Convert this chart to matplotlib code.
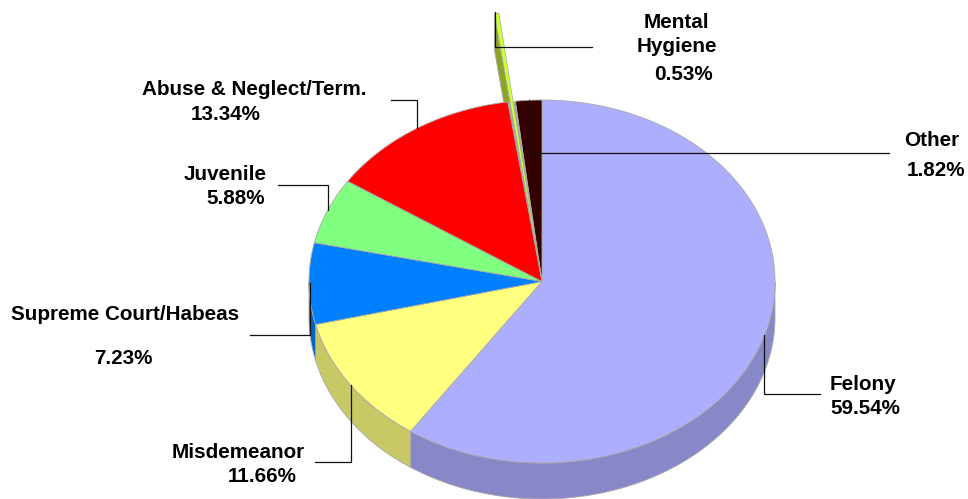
import matplotlib
matplotlib.use("Agg")
import matplotlib.pyplot as plt
from matplotlib.patches import Polygon
import numpy as np

# values, clockwise from 12 o'clock
categories = ['Felony', 'Misdemeanor', 'Supreme Court/Habeas', 'Juvenile',
              'Abuse & Neglect/Term.', 'Mental Hygiene', 'Other']
shares = [59.54, 11.66, 7.23, 5.88, 13.34, 0.53, 1.82]
top_colors = ['#AEAEFF', '#FFFF80', '#0080FF', '#80FF80', '#FF0000', '#CCFF33', '#330000']
side_colors = ['#8888C8', '#C8C864', '#0064C8', '#64C864', '#C80000', '#8FA32A', '#280000']

# pie geometry in pixels
cx, cy = 542, 281.5
rx, ry = 233, 181.5
depth = 36
edge = '#A8A8A8'
mental_stretch = 1.49   # the exploded slice
mental_narrow = 0.4     # it is drawn much thinner than its true angle

fig = plt.figure(figsize=(9.68, 4.99), dpi=100)
ax = fig.add_axes([0, 0, 1, 1])
ax.set_xlim(0, 968)
ax.set_ylim(499, 0)
ax.axis('off')


def rim(theta, k=1.0):
    t = np.radians(theta)
    return cx + k * rx * np.sin(t), cy - k * ry * np.cos(t)


ends = np.cumsum(shares) * 3.6
starts = np.concatenate([[0], ends[:-1]])

# mental hygiene side wall goes behind the pie
m = categories.index('Mental Hygiene')
mid = (starts[m] + ends[m]) / 2
half = (ends[m] - starts[m]) / 2 * mental_narrow
tx, ty = rim(mid - half, mental_stretch)
ax.add_patch(Polygon([(cx, cy), (tx, ty), (tx, ty + depth), (cx, cy + depth)],
                     fc=side_colors[m], ec=edge, lw=0.6, zorder=1))

# side walls of the front half
for i in range(len(shares)):
    a, b = max(starts[i], 90), min(ends[i], 270)
    if b <= a:
        continue
    th = np.linspace(a, b, 120)
    x, y = rim(th)
    pts = list(zip(x, y)) + list(zip(x[::-1], y[::-1] + depth))
    ax.add_patch(Polygon(pts, fc=side_colors[i], ec=edge, lw=0.6, zorder=2))

# top faces
for i in range(len(shares)):
    if i == m:
        continue
    th = np.linspace(starts[i], ends[i], 200)
    x, y = rim(th)
    pts = [(cx, cy)] + list(zip(x, y))
    ax.add_patch(Polygon(pts, fc=top_colors[i], ec=edge, lw=0.6, zorder=3))

# the gap left by the exploded slice is a grey seam with the sliver on top
th = np.linspace(ends[m - 1], starts[m + 1], 10)
x, y = rim(th)
ax.add_patch(Polygon([(cx, cy)] + list(zip(x, y)), fc=edge, ec='none', zorder=3))
ax.add_patch(Polygon([(cx, cy), rim(mid - half, mental_stretch), rim(mid + half, mental_stretch)],
                     fc=top_colors[m], ec=edge, lw=0.5, zorder=4))

# leader lines
leaders = [
    ([764, 764, 820], [335, 394, 394]),
    ([351, 351, 315], [385, 462, 462]),
    ([310, 310, 250], [283, 335, 335]),
    ([328, 328, 278], [210, 185, 185]),
    ([417, 417, 391], [128, 100, 100]),
    ([495, 495, 592], [12, 47, 47]),
    ([529, 529, 889], [100, 153, 153]),
]
for lx, ly in leaders:
    ax.plot(lx, ly, color='#111111', lw=0.9, zorder=5, solid_joinstyle='miter')

# label text, one entry per line
label_text = ['Felony', '59.54%', 'Misdemeanor', '11.66%', 'Supreme Court/Habeas', '7.23%',
              'Juvenile', '5.88%', 'Abuse & Neglect/Term.', '13.34%',
              'Mental', 'Hygiene', '0.53%', 'Other', '1.82%']
label_x = [830, 830, 172, 228, 11, 94, 184, 206, 142, 191, 644, 637, 654, 904, 907]
label_y = [384, 408, 452, 476, 314, 359, 175, 199, 89, 114, 22, 46, 74, 140, 170]
for s, lx, ly in zip(label_text, label_x, label_y):
    ax.text(lx, ly, s, family='Liberation Sans', weight='bold', fontsize=14.9,
            color='black', ha='left', va='center', zorder=6)

fig.savefig('out.png', dpi=100, facecolor='white')
